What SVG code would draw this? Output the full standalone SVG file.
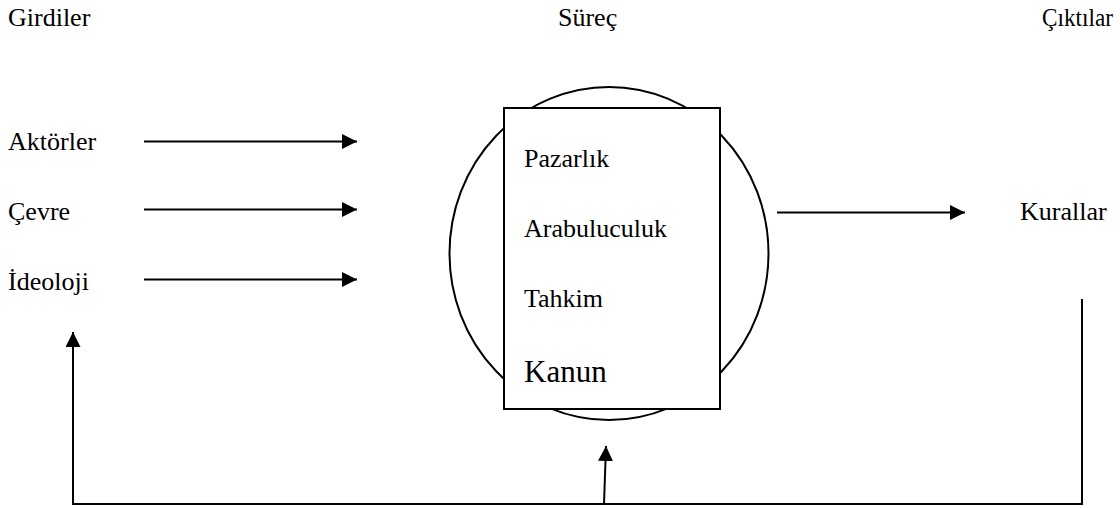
<svg xmlns="http://www.w3.org/2000/svg" width="1120" height="508" viewBox="0 0 1120 508">
<style>
text{font-family:'Liberation Serif','DejaVu Serif',serif;font-size:26px;fill:#000}
.big{font-size:31px}
.ln{stroke:#000;stroke-width:2;fill:none}
</style>
<defs>
<marker id="ah" markerUnits="userSpaceOnUse" markerWidth="16" markerHeight="16" refX="15" refY="7.5" orient="auto">
<path d="M0,0 L15,7.5 L0,15 Z" fill="#000"/>
</marker>
</defs>
<rect width="1120" height="508" fill="#fff"/>
<g id="headers">
<text x="8" y="26">Girdiler</text>
<text x="558" y="26">Süreç</text>
<text x="1042" y="26" textLength="71" lengthAdjust="spacingAndGlyphs">Çıktılar</text>
</g>
<g id="inputs">
<text x="8" y="150">Aktörler</text>
<text x="8" y="220">Çevre</text>
<text x="8" y="290">İdeoloji</text>
</g>
<g id="process">
<ellipse class="ln" cx="609" cy="253.5" rx="159.5" ry="166.5"/>
<rect x="504" y="108" width="216" height="301" fill="#fff" stroke="#000" stroke-width="2"/>
<text x="524" y="167">Pazarlık</text>
<text x="524" y="237">Arabuluculuk</text>
<text x="524" y="307">Tahkim</text>
<text class="big" x="524" y="382">Kanun</text>
</g>
<g id="output">
<text x="1020" y="220">Kurallar</text>
</g>
<g id="connectors">
<line class="ln" x1="144" y1="141.5" x2="357" y2="141.5" marker-end="url(#ah)"/>
<line class="ln" x1="144" y1="209.5" x2="357" y2="209.5" marker-end="url(#ah)"/>
<line class="ln" x1="144" y1="279.5" x2="357" y2="279.5" marker-end="url(#ah)"/>
<line class="ln" x1="777" y1="212.5" x2="965" y2="212.5" marker-end="url(#ah)"/>
<polyline class="ln" points="1082,299 1082,504 73,504 73,332" marker-end="url(#ah)"/>
<line class="ln" x1="604" y1="504" x2="606" y2="446" marker-end="url(#ah)"/>
</g>
</svg>
